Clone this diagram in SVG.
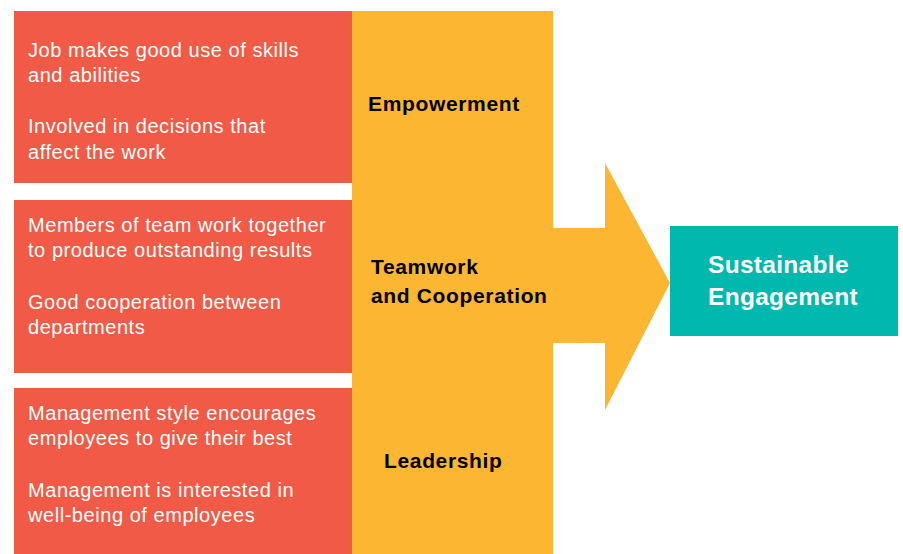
<svg xmlns="http://www.w3.org/2000/svg" width="903" height="554" viewBox="0 0 903 554">
  <style>
    .red { fill: #F05A46; }
    .yellow { fill: #FDB632; }
    .teal { fill: #00B8AE; }
    .item { font-family: "Liberation Sans", Arial, sans-serif; font-size: 20px; fill: #FFFFFF; letter-spacing: 0.55px; }
    .label { font-family: "Liberation Sans", Arial, sans-serif; font-size: 21px; font-weight: bold; fill: #000000; letter-spacing: 0.65px; }
    .goal { font-family: "Liberation Sans", Arial, sans-serif; font-size: 24.5px; font-weight: bold; fill: #FFFFFF; letter-spacing: 0.3px; }
  </style>
  <rect width="903" height="554" fill="#FFFFFF"/>
  <g id="connectors">
    <path class="yellow" d="M552,228 H605 V163 L670,283 L605,410 V343 H552 Z"/>
  </g>
  <g id="pillar">
    <rect class="yellow" x="352" y="11" width="201" height="543"/>
  </g>
  <g id="empowerment-items">
    <rect class="red" x="14" y="11" width="338" height="172"/>
    <text class="item" x="28" y="57">Job makes good use of skills</text>
    <text class="item" x="28" y="82">and abilities</text>
    <text class="item" x="28" y="133">Involved in decisions that</text>
    <text class="item" x="28" y="159">affect the work</text>
  </g>
  <g id="teamwork-items">
    <rect class="red" x="14" y="200" width="338" height="173"/>
    <text class="item" x="28" y="232">Members of team work together</text>
    <text class="item" x="28" y="257">to produce outstanding results</text>
    <text class="item" x="28" y="309">Good cooperation between</text>
    <text class="item" x="28" y="334">departments</text>
  </g>
  <g id="leadership-items">
    <rect class="red" x="14" y="388" width="338" height="166"/>
    <text class="item" x="28" y="420">Management style encourages</text>
    <text class="item" x="28" y="445">employees to give their best</text>
    <text class="item" x="28" y="497">Management is interested in</text>
    <text class="item" x="28" y="522">well-being of employees</text>
  </g>
  <g id="empowerment">
    <text class="label" x="368" y="111">Empowerment</text>
  </g>
  <g id="teamwork">
    <text class="label" x="371" y="274">Teamwork</text>
    <text class="label" x="371" y="303">and Cooperation</text>
  </g>
  <g id="leadership">
    <text class="label" x="384" y="468">Leadership</text>
  </g>
  <g id="sustainable-engagement">
    <rect class="teal" x="670" y="226" width="228" height="110"/>
    <text class="goal" x="708" y="273">Sustainable</text>
    <text class="goal" x="708" y="305">Engagement</text>
  </g>
</svg>
